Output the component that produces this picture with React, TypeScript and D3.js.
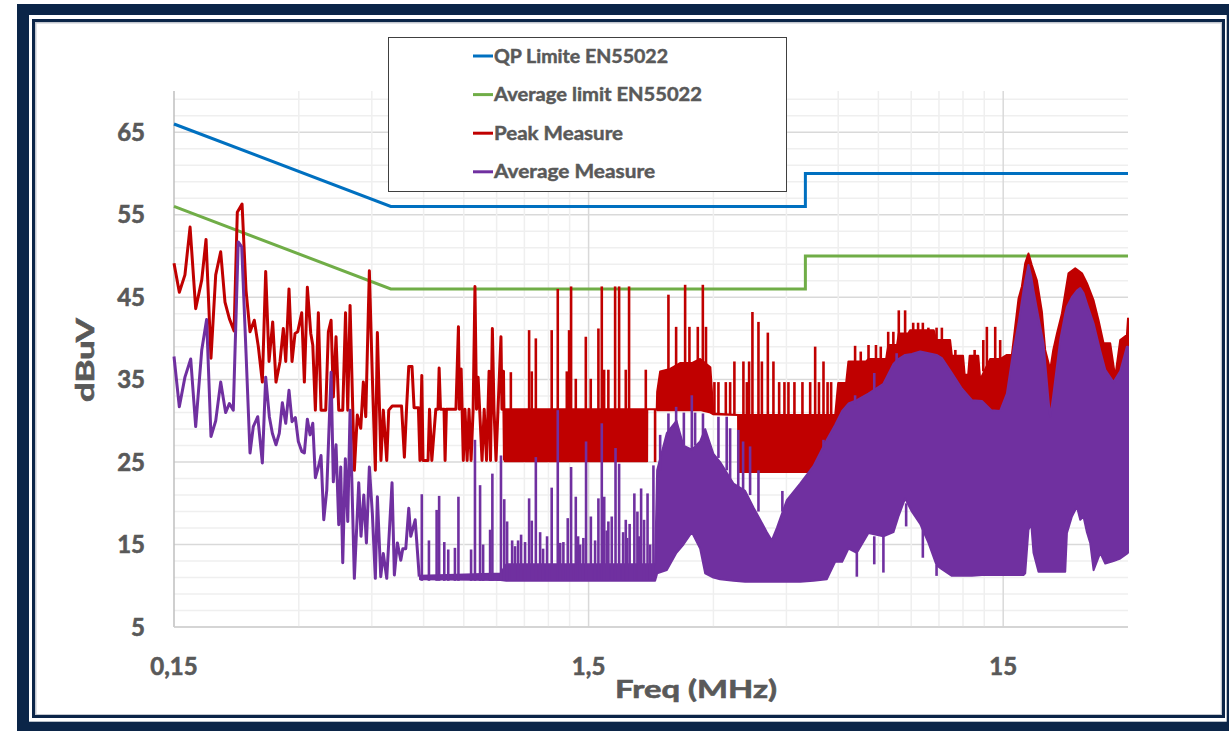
import * as d3 from "d3";

const W = 1229;
const H = 731;
const plot = { left: 174, right: 1128, top: 91, bottom: 627 };

// EN55022 limit lines (MHz, dBuV)
const qpLimit = [[0.15, 66], [0.5, 56], [5, 56], [5, 60], [30, 60]];
const avgLimit = [[0.15, 56], [0.5, 46], [5, 46], [5, 50], [30, 50]];

// Peak measure, low frequency part (single points)
const peakPoints = [
  [0.15, 49.1], [0.1545, 45.6], [0.1594, 47.7], [0.164, 53.5], [0.1692, 43.6], [0.175, 47.1],
  [0.1792, 52.0], [0.1842, 37.6], [0.1891, 47.7], [0.1944, 50.5], [0.1991, 44.4], [0.204, 42.4],
  [0.2094, 40.9], [0.2132, 55.3], [0.2189, 56.3], [0.2238, 45.8], [0.2288, 40.8], [0.2343, 42.2],
  [0.2396, 39.0], [0.245, 34.7], [0.2496, 48.1], [0.2543, 37.2], [0.2595, 42.0], [0.2643, 34.7],
  [0.2703, 37.2], [0.2753, 41.2], [0.279, 37.2], [0.2841, 46.0], [0.2889, 37.2], [0.2938, 40.6],
  [0.2982, 40.8], [0.3049, 43.1], [0.3094, 34.7], [0.3146, 46.2], [0.3206, 40.6], [0.3242, 39.2],
  [0.3289, 31.3], [0.3344, 43.1], [0.3394, 31.3], [0.3484, 31.3], [0.3535, 40.8], [0.3589, 42.2],
  [0.3634, 32.9], [0.3689, 40.2], [0.3745, 31.3], [0.3829, 31.3], [0.3889, 43.1], [0.3937, 31.3],
  [0.3988, 44.0], [0.4084, 24.0], [0.4152, 30.7], [0.4232, 29.1], [0.4293, 34.7], [0.4351, 30.5],
  [0.4439, 48.2], [0.4513, 35.3], [0.4589, 24.0], [0.4641, 40.7], [0.4734, 25.2], [0.4797, 31.3],
  [0.4889, 25.2], [0.4944, 31.3], [0.504, 31.8], [0.5308, 31.8], [0.5392, 25.6], [0.546, 31.7],
  [0.5525, 36.6], [0.5625, 36.6], [0.569, 31.6], [0.5828, 31.6], [0.588, 25.2], [0.594, 35.5],
  [0.598, 25.2], [0.615, 25.2], [0.62, 31.4], [0.628, 25.2], [0.642, 31.4], [0.65, 31.4],
  [0.654, 36.4], [0.659, 31.4], [0.672, 31.4], [0.676, 25.2], [0.681, 31.4], [0.718, 31.4],
  [0.728, 41.4], [0.732, 31.4], [0.739, 36.3], [0.743, 31.4], [0.748, 25.2], [0.755, 31.4],
  [0.764, 25.2], [0.772, 31.4], [0.781, 25.2], [0.79, 31.4], [0.798, 46.3], [0.805, 31.4],
  [0.812, 35.3], [0.819, 31.4], [0.83, 25.2], [0.84, 31.4], [0.851, 25.2], [0.858, 31.4],
  [0.863, 36.0], [0.87, 25.2], [0.879, 41.2], [0.887, 31.4], [0.897, 25.2], [0.907, 31.4],
  [0.922, 40.2], [0.927, 31.4], [0.935, 36.0], [0.94, 25.2],
];

// Peak measure, dense part: [MHz, low edge, high edge]
const peakBand = [
  [0.942, 25.1, 31.4], [2.076, 25.1, 31.4], [2.078, 31.4, 31.4], [2.19, 31.4, 31.4],
  [2.195, 31.3, 33.5], [2.232, 31.3, 36.0], [2.359, 31.3, 36.3], [2.493, 31.3, 37.0],
  [2.661, 31.3, 37.0], [2.787, 31.3, 37.5], [2.95, 31.0, 36.5], [3.0, 30.8, 30.9],
  [3.44, 30.7, 30.7], [3.445, 23.8, 30.7], [5.9, 23.8, 30.7], [6.0, 24, 34.6],
  [6.27, 24, 34.6], [6.35, 24, 37.2], [7.0, 24, 37.2], [7.1, 24, 37.5], [7.83, 24, 37.5],
  [7.92, 24, 39.2], [8.32, 24, 39.2], [8.4, 24, 40.6], [8.85, 24, 40.6], [8.95, 24, 41.0],
  [10.2, 24, 41.0], [10.34, 24, 39.8], [11.17, 24, 39.8], [11.28, 24, 37.9], [12.0, 24, 37.9],
  [12.11, 24, 35.6], [12.35, 24, 35.6], [12.45, 24, 37.9], [13.06, 24, 37.9], [13.2, 24, 35.0],
  [13.95, 24, 37.5], [14.75, 24, 37.5], [15.31, 24, 38.0], [15.74, 24, 38.0], [16.03, 24, 41.4],
  [16.33, 24, 44.8], [16.64, 24, 46.3], [16.95, 24, 49.1], [17.26, 24, 50.3], [17.58, 24, 48.9],
  [18.09, 24, 47.0], [18.6, 24, 43.2], [18.94, 24, 38.6], [19.48, 24, 36.2], [19.81, 24, 38.6],
  [20.22, 24, 40.6], [20.78, 24, 43.0], [21.56, 24, 47.9], [22.38, 24, 48.5], [23.23, 24, 47.9],
  [23.88, 24, 46.7], [24.78, 24, 44.6], [25.47, 24, 42.2], [26.19, 24, 39.4], [27.18, 24, 39.4],
  [27.94, 24, 35.3], [28.73, 24, 39.8], [29.82, 24, 40.4], [30, 24, 42.4],
];

// Peak measure, single spikes: [MHz, from, to]
const peakSpikes = [
  [0.974, 31.4, 35.9], [1.078, 31.4, 41.0], [1.094, 31.4, 36.0], [1.119, 31.4, 40.0],
  [1.222, 31.4, 41.0], [1.264, 31.4, 46.0], [1.329, 31.4, 36.0], [1.346, 31.4, 41.0],
  [1.361, 31.4, 46.3], [1.397, 31.4, 35.1], [1.477, 31.4, 40.2], [1.518, 31.4, 35.1],
  [1.584, 31.4, 41.2], [1.614, 31.4, 46.3], [1.635, 31.4, 36.2], [1.674, 31.4, 36.2],
  [1.738, 31.4, 46.3], [1.777, 31.4, 46.3], [1.844, 31.4, 36.2], [1.878, 31.4, 46.3],
  [2.061, 31.4, 36.2], [2.17, 31.4, 25.0],
  [2.337, 36, 45.3], [2.439, 36, 41.4], [2.564, 36, 46.5], [2.626, 36, 41.4],
  [2.751, 36, 41.4], [2.829, 36, 46.5], [2.879, 36, 41.4],
  [3.017, 30.7, 34.7], [3.085, 30.7, 34.7], [3.214, 30.7, 34.7], [3.292, 30.7, 34.7],
  [3.371, 30.7, 37.2], [3.544, 30.7, 37.2], [3.612, 30.7, 34.7], [3.658, 30.7, 37.2],
  [3.726, 30.7, 43.2], [3.853, 30.7, 42.0], [3.927, 30.7, 37.2], [4.059, 30.7, 40.7],
  [4.187, 30.7, 37.2], [4.322, 30.7, 34.7], [4.451, 30.7, 34.7], [4.551, 30.7, 34.7],
  [4.705, 30.7, 34.7], [4.919, 30.7, 34.7], [5.135, 30.7, 34.7], [5.279, 30.7, 39.0],
  [5.392, 30.7, 34.7], [5.529, 30.7, 37.2], [5.656, 30.7, 34.7], [5.769, 30.7, 34.7],
  [6.59, 37, 39.1], [6.8, 37, 38.4], [7.1, 37, 39.2], [7.4, 37, 39.2], [7.6, 37, 39.0],
  [7.92, 39, 40.8], [8.15, 39, 40.8], [8.4, 40, 43.4], [8.7, 40, 43.4], [9.1, 40, 41.9],
  [9.35, 40, 41.9], [9.6, 40, 41.9], [9.9, 40, 41.3], [10.36, 39, 41.3], [10.67, 39, 41.3],
  [11.5, 37.5, 38.6], [12.8, 37.5, 38.6], [13.43, 36, 39.8], [13.7, 36, 41.4],
  [14.35, 36, 41.4], [14.75, 36, 39.8],
];

// Average measure, low frequency part (single points)
const avgPoints = [
  [0.15, 37.8], [0.1545, 31.7], [0.1594, 35.3], [0.1646, 37.5], [0.1692, 29.3], [0.175, 38.6],
  [0.1798, 42.3], [0.1842, 28.1], [0.1891, 30.0], [0.1944, 34.7], [0.1998, 31.0], [0.204, 32.1],
  [0.2085, 31.3], [0.2143, 51.7], [0.2185, 51.1], [0.2238, 38.2], [0.2288, 26.1], [0.233, 29.3],
  [0.2388, 30.5], [0.245, 24.9], [0.2496, 35.3], [0.2547, 30.5], [0.259, 28.5], [0.2643, 27.1],
  [0.2692, 28.5], [0.2738, 32.2], [0.279, 29.7], [0.2841, 33.7], [0.2889, 29.9], [0.2943, 30.4],
  [0.2992, 27.5], [0.3049, 26.3], [0.3094, 26.1], [0.3146, 30.2], [0.3193, 28.3], [0.3242, 29.7],
  [0.3289, 23.1], [0.3344, 24.4], [0.3394, 25.8], [0.3446, 18.0], [0.3504, 21.6], [0.3589, 35.9],
  [0.3634, 22.6], [0.3689, 27.1], [0.3745, 17.4], [0.3786, 24.4], [0.3829, 12.8], [0.3885, 25.4],
  [0.3937, 17.8], [0.3988, 31.3], [0.4084, 10.9], [0.4185, 22.5], [0.4238, 16.0], [0.4304, 21.0],
  [0.4367, 15.2], [0.4439, 24.4], [0.4513, 18.8], [0.4589, 10.9], [0.4641, 20.8], [0.4729, 11.1],
  [0.4797, 13.9], [0.4889, 10.9], [0.5035, 22.5], [0.51, 11.3], [0.5186, 15.2], [0.5285, 13.1],
  [0.5345, 14.5], [0.5434, 14.5], [0.5525, 19.4], [0.5587, 16.0], [0.5726, 18.0], [0.5856, 11.1],
];

// Average measure, dense part: [MHz, low edge, high edge]
const avgBand = [
  [0.588, 10.8, 11.2], [0.92, 10.7, 11.5], [0.95, 10.6, 12.6], [2.17, 10.6, 12.6],
  [2.195, 11.5, 24.0], [2.316, 11.9, 28.5], [2.443, 14.0, 30.0], [2.54, 15.0, 27.0],
  [2.661, 16.5, 26.5], [2.787, 14.5, 27.5], [2.866, 11.5, 29.0], [3.0, 11.0, 26.0],
  [3.114, 10.8, 25.0], [3.353, 10.6, 22.4], [3.578, 10.5, 21.5], [3.747, 10.5, 19.5],
  [4.037, 10.5, 16.5], [4.15, 10.5, 15.5], [4.267, 10.5, 17.0], [4.511, 10.5, 20.4],
  [4.857, 10.5, 22.4], [5.229, 10.6, 24.5], [5.634, 10.8, 27.7], [5.899, 12.9, 29.5],
  [6.133, 12.9, 31.2], [6.352, 14.5, 32.1], [6.654, 14.0, 32.5], [7.097, 16.4, 33.3],
  [7.712, 16.0, 34.5], [8.154, 16.5, 36.9], [8.383, 18.4, 37.5], [8.701, 20.6, 38.0],
  [9.03, 19.0, 38.1], [9.46, 17.5, 38.4], [9.906, 15.2, 38.2], [10.36, 12.5, 38.0],
  [10.67, 12.0, 37.6], [11.28, 11.2, 35.8], [11.93, 11.2, 33.9], [12.61, 11.2, 32.5],
  [13.33, 11.3, 32.4], [14.04, 11.3, 31.3], [14.75, 11.3, 31.2], [15.31, 11.3, 33.3],
  [15.88, 11.3, 38.6], [16.33, 11.3, 41.8], [16.79, 11.3, 45.8], [16.95, 11.5, 47.0],
  [17.26, 16.8, 48.9], [17.53, 17.5, 47.5], [17.75, 14.0, 45.8], [18.25, 11.7, 42.5],
  [18.76, 11.7, 39.4], [19.29, 11.7, 32.5], [19.48, 11.7, 30.5], [19.8, 11.7, 33.0],
  [20.59, 11.7, 39.8], [21.17, 11.7, 43.0], [21.37, 16.4, 43.8], [21.97, 18.4, 45.0],
  [22.59, 19.6, 45.8], [23.01, 18.0, 46.1], [23.43, 18.4, 45.5], [23.88, 16.5, 44.2],
  [24.32, 15.2, 43.0], [24.78, 11.9, 41.8], [25.71, 14.0, 38.5], [26.44, 12.7, 36.2],
  [27.68, 13.0, 34.7], [28.73, 13.3, 36.0], [29.82, 13.9, 39.0], [30, 14.0, 39.0],
];

// Average measure, single spikes: [MHz, from, to]
const avgSpikes = [
  [0.594, 10.6, 21.1], [0.618, 10.6, 15.5], [0.645, 10.6, 19.2], [0.654, 10.6, 20.9],
  [0.673, 10.6, 15.3], [0.688, 10.6, 14.4], [0.714, 10.6, 14.6], [0.728, 10.6, 20.8],
  [0.781, 10.6, 14.4], [0.798, 10.6, 27.7], [0.821, 10.6, 22.2], [0.835, 10.6, 15.0],
  [0.868, 10.6, 16.8], [0.879, 10.6, 23.6], [0.922, 10.6, 25.8], [0.939, 10.6, 20.5],
  [0.954, 10.6, 17.8], [0.981, 10.6, 15.5], [0.997, 10.6, 14.8], [1.014, 10.6, 15.5],
  [1.031, 10.6, 16.2], [1.054, 10.6, 15.3], [1.078, 10.6, 20.6], [1.094, 10.6, 17.9],
  [1.119, 10.6, 25.6], [1.146, 10.6, 16.5], [1.165, 10.6, 14.5], [1.191, 10.6, 16.0],
  [1.222, 10.6, 21.9], [1.264, 10.6, 31.3], [1.281, 10.6, 15.2], [1.304, 10.6, 15.3],
  [1.336, 10.6, 18.2], [1.361, 10.6, 24.4], [1.397, 10.6, 20.8], [1.415, 10.6, 16.0],
  [1.431, 10.6, 15.0], [1.457, 10.6, 15.8], [1.479, 10.6, 27.5], [1.519, 10.6, 18.4],
  [1.555, 10.6, 15.5], [1.584, 10.6, 20.6], [1.614, 10.6, 29.7], [1.636, 10.6, 20.8],
  [1.659, 10.6, 16.7], [1.674, 10.6, 17.8], [1.706, 10.6, 18.4], [1.742, 10.6, 26.7],
  [1.777, 10.6, 24.8], [1.817, 10.6, 16.5], [1.844, 10.6, 18.0], [1.858, 10.6, 15.8],
  [1.884, 10.6, 17.5], [1.934, 10.6, 21.2], [1.967, 10.6, 19.0], [1.985, 10.6, 16.0],
  [2.008, 10.6, 21.8], [2.041, 10.6, 18.0], [2.081, 10.6, 21.2], [2.111, 10.6, 15.0],
  [2.15, 10.6, 24.6],
  [2.232, 24, 28.3], [2.337, 28, 30.9], [2.439, 29, 31.7], [2.546, 27, 31.0],
  [2.661, 26.5, 33.1], [2.71, 27, 31.0], [2.831, 27.5, 30.9], [3.085, 25.5, 30.5],
  [3.23, 24, 30.5], [3.292, 23, 29.1], [3.444, 22, 28.9], [3.538, 21.5, 27.5],
  [3.678, 21, 26.9], [3.853, 19, 24.0], [4.4, 19, 21.5], [5.529, 26.5, 27.7],
  [6.59, 32, 33.1], [7.33, 33.5, 35.8], [8.3, 37, 38.2],
  [6.654, 14, 11.1], [7.33, 16, 12.6], [7.712, 16, 11.6], [8.75, 20, 17.2],
  [9.6, 17, 13.4], [10.36, 12.5, 11.2],
];

const yTicks = [5, 15, 25, 35, 45, 55, 65];
const xTicks = [0.15, 1.5, 15];
const xTickLabels = ["0,15", "1,5", "15"];
const decadeBases = [0.15, 1.5, 15];

const legendItems = [
  { label: "QP Limite EN55022", color: "#0070C0", width: 174 },
  { label: "Average limit EN55022", color: "#70AD47", width: 208 },
  { label: "Peak Measure", color: "#C00000", width: 129 },
  { label: "Average Measure", color: "#7030A0", width: 161 },
];

const textColor = "#595959";
const font = "Lato, 'Open Sans', sans-serif";
const navy = "#0b2548";
// slight outline so the bold text looks as heavy as the original
const heavy = { stroke: textColor, strokeWidth: 0.6 };

export default function App() {
  const x = d3.scaleLog().domain([0.15, 30]).range([plot.left, plot.right]);
  const y = d3.scaleLinear().domain([5, 70]).range([plot.bottom, plot.top]);

  const line = d3.line<number[]>().x(d => x(d[0])).y(d => y(d[1]));
  const band = d3
    .area<number[]>()
    .x(d => x(d[0]))
    .y0(d => y(d[1]))
    .y1(d => y(d[2]));

  const minorY = d3.range(5, 70, 2);
  const majorY = d3.range(5, 70, 10);
  const minorX: number[] = [];
  decadeBases.forEach(b => {
    for (let k = 2; k <= 9; k++) if (b * k < 30) minorX.push(b * k);
  });

  return (
    <div style={{ position: "absolute", left: 0, top: 0 }}>
      <svg width={W} height={H} style={{ display: "block", background: "#fff" }}>
        {/* frame */}
        <rect x={17} y={4} width={W} height={H} fill={navy} />
        <rect x={29} y={15} width={1197.7} height={706.7} fill="#fff" />
        <rect x={32} y={19} width={1193} height={699} fill={navy} />
        <rect x={35} y={22} width={1187} height={693} fill="#c3c7cf" />
        <rect x={36.5} y={23.5} width={1184.3} height={690.5} fill="#fff" />

        {/* grid */}
        {minorY.map(v => (
          <line key={"gy" + v} x1={plot.left} x2={plot.right} y1={y(v)} y2={y(v)}
            stroke={majorY.includes(v) ? "#d9d9d9" : "#efefef"} strokeWidth={1.5} />
        ))}
        {minorX.map(v => (
          <line key={"gx" + v} x1={x(v)} x2={x(v)} y1={plot.top} y2={plot.bottom}
            stroke="#efefef" strokeWidth={1.5} />
        ))}
        {xTicks.slice(1).map(v => (
          <line key={"mx" + v} x1={x(v)} x2={x(v)} y1={plot.top} y2={plot.bottom}
            stroke="#d9d9d9" strokeWidth={1.5} />
        ))}
        <line x1={plot.left} x2={plot.left} y1={plot.top} y2={plot.bottom} stroke="#bfbfbf" strokeWidth={1.5} />
        <line x1={plot.left} x2={plot.right} y1={plot.bottom} y2={plot.bottom} stroke="#d0d0d0" strokeWidth={1.5} />

        {/* limits */}
        <path d={line(qpLimit) || ""} fill="none" stroke="#0070C0" strokeWidth={3} />
        <path d={line(avgLimit) || ""} fill="none" stroke="#70AD47" strokeWidth={3} />

        {/* peak measure */}
        <g stroke="#C00000" strokeWidth={2.6} strokeLinejoin="round">
          <path d={line(peakPoints) || ""} fill="none" strokeWidth={3} />
          <path d={band(peakBand) || ""} fill="#C00000" strokeWidth={2} />
          {peakSpikes.map((s, i) => (
            <line key={"ps" + i} x1={x(s[0])} x2={x(s[0])} y1={y(s[1])} y2={y(s[2])} />
          ))}
        </g>

        {/* average measure */}
        <g stroke="#7030A0" strokeWidth={2.6} strokeLinejoin="round">
          <path d={line(avgPoints) || ""} fill="none" strokeWidth={3} />
          <path d={band(avgBand) || ""} fill="#7030A0" strokeWidth={2} />
          {avgSpikes.map((s, i) => (
            <line key={"as" + i} x1={x(s[0])} x2={x(s[0])} y1={y(s[1])} y2={y(s[2])} />
          ))}
        </g>

        {/* ticks */}
        {yTicks.map(v => (
          <text key={"yt" + v} x={145} y={y(v) + 8.6} textAnchor="end" fill={textColor}
            fontFamily={font} fontWeight="bold" fontSize={24} {...heavy}>{v}</text>
        ))}
        {xTicks.map((v, i) => (
          <text key={"xt" + v} x={x(v)} y={675} textAnchor="middle" fill={textColor}
            fontFamily={font} fontWeight="bold" fontSize={24} {...heavy}>{xTickLabels[i]}</text>
        ))}

        {/* axis titles */}
        <text x={696} y={698} textAnchor="middle" fill={textColor} fontFamily={font}
          fontWeight="bold" fontSize={24} textLength={162} lengthAdjust="spacingAndGlyphs"
          {...heavy}>Freq (MHz)</text>
        <text transform="translate(94,360) rotate(-90)" textAnchor="middle" fill={textColor}
          fontFamily={font} fontWeight="bold" fontSize={24} textLength={84}
          lengthAdjust="spacingAndGlyphs" {...heavy}>dBuV</text>

        {/* legend */}
        <rect x={388.5} y={37.5} width={398} height={154} fill="#fff" stroke="#404040" strokeWidth={1} />
        {legendItems.map((d, i) => {
          const cy = 56 + i * 38.6;
          return (
            <g key={d.label}>
              <line x1={473} x2={493} y1={cy} y2={cy} stroke={d.color} strokeWidth={3} />
              <text x={494} y={cy + 6.5} fill={textColor} fontFamily={font} fontWeight="bold"
                fontSize={18} textLength={d.width} lengthAdjust="spacingAndGlyphs"
                stroke={textColor} strokeWidth={0.45}>{d.label}</text>
            </g>
          );
        })}
      </svg>
    </div>
  );
}
